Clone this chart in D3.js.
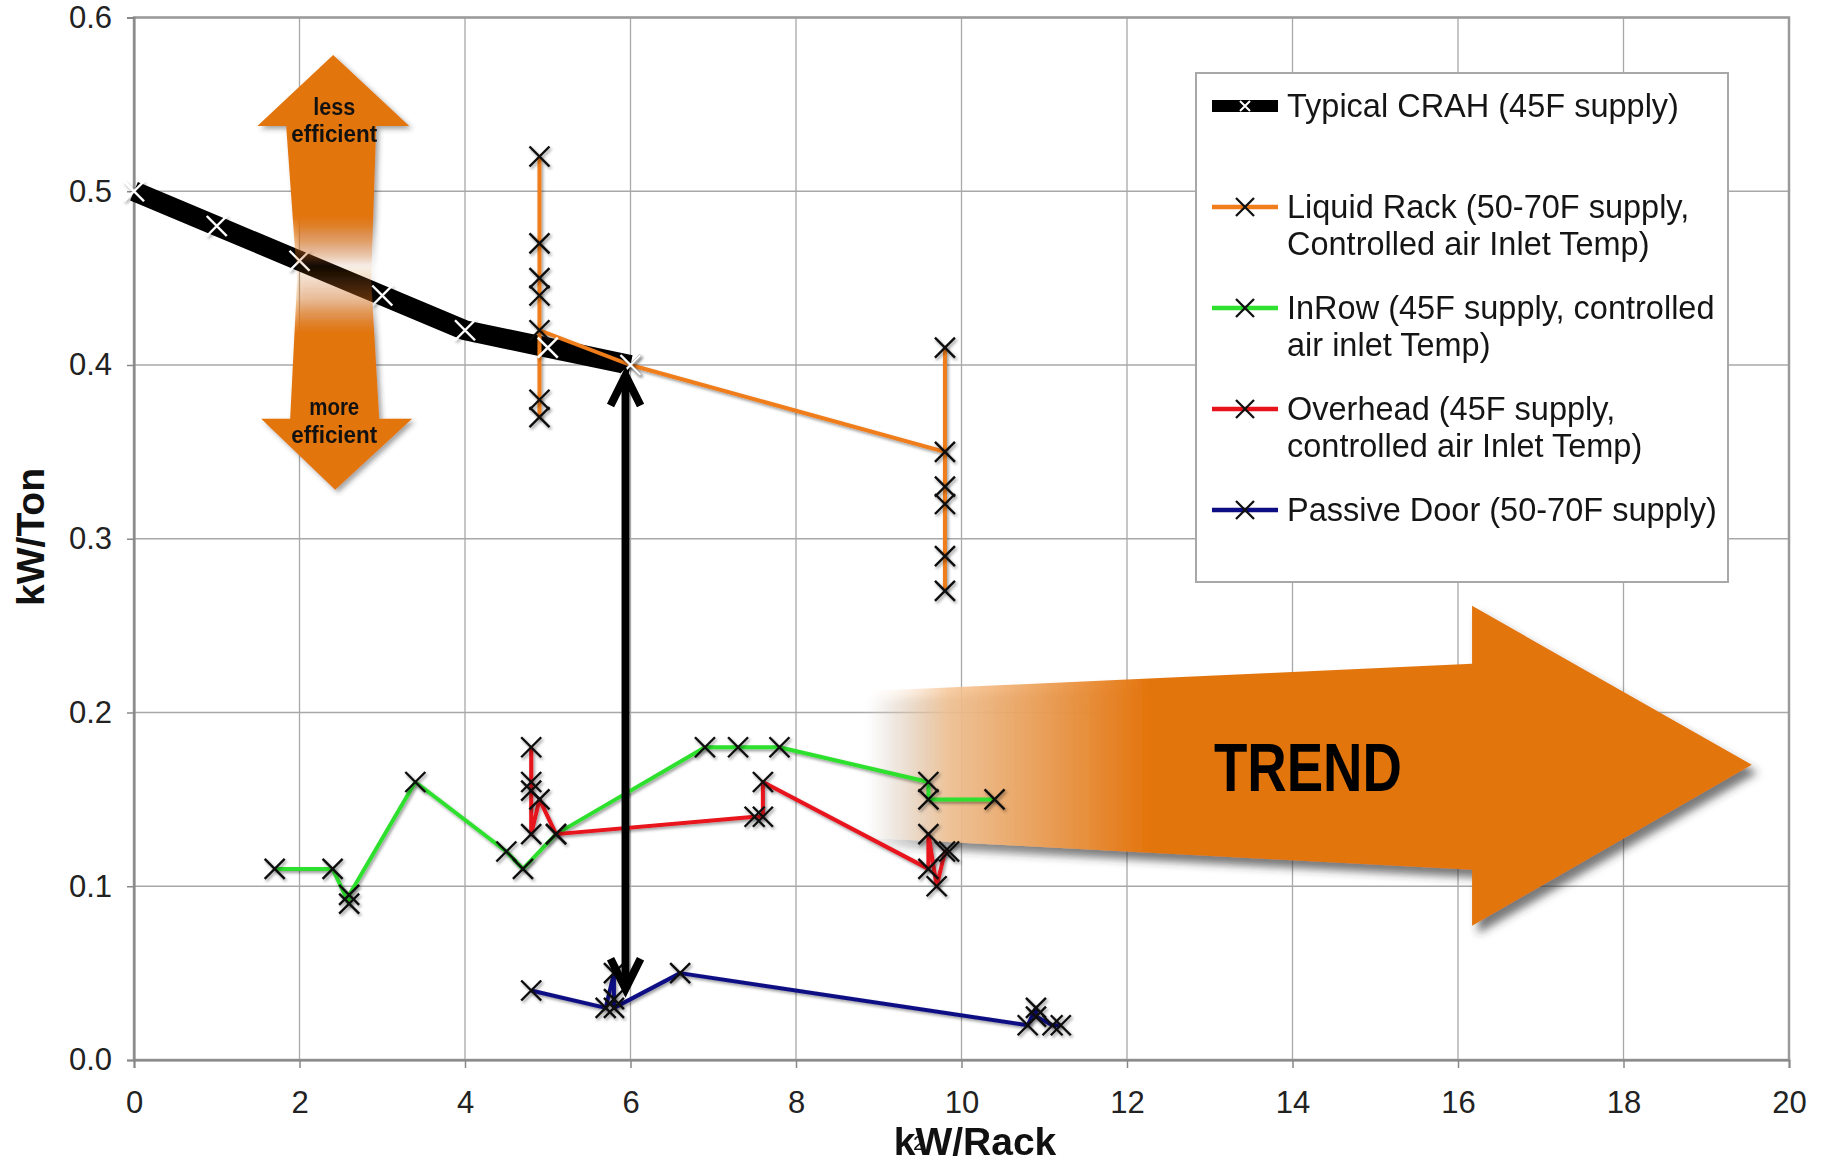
<!DOCTYPE html>
<html><head><meta charset="utf-8">
<script src="https://cdn.jsdelivr.net/npm/d3@7"></script>
<style>
html,body{margin:0;padding:0;background:#fff;}
svg{display:block;font-family:"Liberation Sans",Arial,Helvetica,sans-serif;}
</style></head><body>
<svg id="chart" width="1825" height="1162"></svg>
<script>
// ---------------- DATA ----------------
const xTicks = [0,2,4,6,8,10,12,14,16,18,20];
const yTicks = [0,0.1,0.2,0.3,0.4,0.5,0.6];

const crahX = [0,1,2,3,4,5,6];
const crahY = [0.50,0.48,0.46,0.44,0.42,0.41,0.40];

const liquidX = [4.9,4.9,4.9,4.9,4.9,4.9,4.9,6.0,9.8,9.8,9.8,9.8,9.8,9.8];
const liquidY = [0.52,0.47,0.45,0.44,0.37,0.38,0.42,0.40,0.35,0.41,0.33,0.32,0.29,0.27];

const inrowX = [1.7,2.4,2.6,2.6,3.4,4.5,4.7,5.1,6.9,7.3,7.8,9.6,9.6,10.4];
const inrowY = [0.11,0.11,0.09,0.095,0.16,0.12,0.11,0.13,0.18,0.18,0.18,0.16,0.15,0.15];

const overheadX = [4.8,4.8,4.8,4.8,4.9,5.1,7.5,7.6,7.6,9.6,9.6,9.7,9.8,9.85];
const overheadY = [0.18,0.16,0.155,0.13,0.15,0.13,0.14,0.14,0.16,0.11,0.13,0.10,0.12,0.12];

const passiveX = [4.8,5.7,5.8,5.8,5.8,6.6,10.8,10.9,10.9,11.1,11.2];
const passiveY = [0.04,0.03,0.05,0.035,0.03,0.05,0.02,0.03,0.025,0.02,0.02];

const legendLabels = [
  ["Typical CRAH (45F supply)"],
  ["Liquid Rack (50-70F supply,", "Controlled air Inlet Temp)"],
  ["InRow (45F supply, controlled", "air inlet Temp)"],
  ["Overhead (45F supply,", "controlled air Inlet Temp)"],
  ["Passive Door (50-70F supply)"]
];
const xLabel = "kW/Rack";
const yLabel = "kW/Ton";

// ---------------- STYLE ----------------
const seriesColors = ["#f07d1a", "#2fe02f", "#e8121c", "#0d0d84"];
const orange = "#e3740c";

// ---------------- CHART ----------------
const svg = d3.select("#chart");
const x = d3.scaleLinear().domain([0,20]).range([134,1789]);
const y = d3.scaleLinear().domain([0,0.6]).range([1060,17.5]);

const defs = svg.append("defs");
const f1 = defs.append("filter").attr("id","mshadow").attr("x","-50%").attr("y","-50%").attr("width","200%").attr("height","200%");
f1.append("feDropShadow").attr("dx",1.5).attr("dy",2).attr("stdDeviation",1.4).attr("flood-color","#000").attr("flood-opacity",0.4);
const f2 = defs.append("filter").attr("id","bshadow").attr("x","-20%").attr("y","-20%").attr("width","140%").attr("height","140%");
f2.append("feDropShadow").attr("dx",6).attr("dy",8).attr("stdDeviation",4.5).attr("flood-color","#333").attr("flood-opacity",0.65);
const f3 = defs.append("filter").attr("id","sshadow").attr("x","-20%").attr("y","-20%").attr("width","140%").attr("height","140%");
f3.append("feDropShadow").attr("dx",3).attr("dy",3).attr("stdDeviation",2.5).attr("flood-color","#333").attr("flood-opacity",0.45);

// trend gradient
const tg = defs.append("linearGradient").attr("id","trendGrad").attr("gradientUnits","userSpaceOnUse")
  .attr("x1", x(8.78)).attr("x2", x(12.28)).attr("y1",0).attr("y2",0);
tg.append("stop").attr("offset",0).attr("stop-color","#ffffff").attr("stop-opacity",0);
tg.append("stop").attr("offset",0.3).attr("stop-color","#f6c697").attr("stop-opacity",0.85);
tg.append("stop").attr("offset",1).attr("stop-color",orange).attr("stop-opacity",1);

// up/down gradient
const ug = defs.append("linearGradient").attr("id","udGrad").attr("gradientUnits","userSpaceOnUse")
  .attr("x1",0).attr("x2",0).attr("y1", y(0.5784)).attr("y2", y(0.3282));
[[0,1],[0.37,1],[0.45,0.35],[0.485,0.06],[0.56,0.35],[0.64,1],[1,1]].forEach(s=>{
  ug.append("stop").attr("offset",s[0]).attr("stop-color",orange).attr("stop-opacity",s[1]);
});

// grid
const grid = svg.append("g");
grid.selectAll("line.v").data(xTicks).join("line")
  .attr("x1",d=>x(d)).attr("x2",d=>x(d)).attr("y1",y(0.6)).attr("y2",y(0))
  .attr("stroke","#a8a8a8").attr("stroke-width",1.3);
grid.selectAll("line.h").data(yTicks).join("line")
  .attr("x1",x(0)).attr("x2",x(20)).attr("y1",d=>y(d)).attr("y2",d=>y(d))
  .attr("stroke","#a8a8a8").attr("stroke-width",1.3);
svg.append("rect").attr("x",x(0)).attr("y",y(0.6)).attr("width",x(20)-x(0)).attr("height",y(0)-y(0.6))
  .attr("fill","none").attr("stroke","#9a9a9a").attr("stroke-width",2.5);

// axes
const tickFont = "Liberation Sans, Arial, sans-serif";
svg.append("g").attr("transform",`translate(0,${y(0)})`)
  .call(d3.axisBottom(x).tickValues(xTicks).tickFormat(d3.format("d")).tickSize(8).tickPadding(23))
  .attr("font-size",31).attr("font-family",tickFont)
  .call(g=>g.select(".domain").attr("stroke","#888").attr("stroke-width",2))
  .call(g=>g.selectAll(".tick line").attr("stroke","#888").attr("stroke-width",1.5))
  .call(g=>g.selectAll(".tick text").attr("fill","#222"));
svg.append("g").attr("transform",`translate(${x(0)},0)`)
  .call(d3.axisLeft(y).tickValues(yTicks).tickFormat(d3.format(".1f")).tickSize(7).tickPadding(15))
  .attr("font-size",31).attr("font-family",tickFont)
  .call(g=>g.select(".domain").attr("stroke","#888").attr("stroke-width",2))
  .call(g=>g.selectAll(".tick line").attr("stroke","#888").attr("stroke-width",1.5))
  .call(g=>g.selectAll(".tick text").attr("fill","#222"));

// TREND arrow (annotation, in data units)
const trendAX = [8.414,16.17,16.17,19.55,16.17,16.17,8.414];
const trendAY = [0.2113,0.2280,0.2614,0.1699,0.0773,0.1095,0.1290];
svg.append("path")
  .attr("d", d3.line()(trendAX.map((v,i)=>[x(v), y(trendAY[i])])) + "Z")
  .attr("fill","url(#trendGrad)").attr("filter","url(#bshadow)");
svg.append("text").attr("x",x(13.05)).attr("y",y(0.1551))
  .attr("font-family","'Liberation Sans Narrow','Arial Narrow',Liberation Sans,sans-serif")
  .attr("font-weight","bold").attr("font-size",68).attr("fill","#000")
  .attr("textLength",188).attr("lengthAdjust","spacingAndGlyphs").text("TREND");

const line = d3.line().x(d=>x(d[0])).y(d=>y(d[1]));
const zip = (a,b)=>a.map((v,i)=>[v,b[i]]);

// CRAH line
svg.append("path").datum(zip(crahX,crahY)).attr("d",line)
  .attr("fill","none").attr("stroke","#000").attr("stroke-width",20)
  .attr("stroke-linejoin","round").attr("stroke-linecap","butt");

const seriesData = [zip(liquidX,liquidY), zip(inrowX,inrowY), zip(overheadX,overheadY), zip(passiveX,passiveY)];
const xPath = r => `M${-r},${-r}L${r},${r}M${-r},${r}L${r},${-r}`;

seriesData.forEach((d,i)=>{
  svg.append("path").datum(d).attr("d",line)
    .attr("fill","none").attr("stroke",seriesColors[i]).attr("stroke-width",4)
    .attr("stroke-linejoin","round").attr("filter","url(#mshadow)");
});
const mk = svg.append("g").attr("filter","url(#mshadow)");
seriesData.forEach((d)=>{
  mk.selectAll(null).data(d).join("path")
    .attr("transform",p=>`translate(${x(p[0])},${y(p[1])})`)
    .attr("d",xPath(10)).attr("stroke","#111").attr("stroke-width",2.4).attr("fill","none");
});
svg.append("g").attr("filter","url(#mshadow)").selectAll("path").data(zip(crahX,crahY)).join("path")
  .attr("transform",p=>`translate(${x(p[0])},${y(p[1])})`)
  .attr("d",xPath(10)).attr("stroke","#fff").attr("stroke-width",2.4).attr("fill","none");

// up/down orange arrow
const udX = [2.407,3.326,2.927,2.866,2.963,3.361,2.431,1.537,1.887,1.972,1.839,1.491];
const udY = [0.5784,0.5375,0.5375,0.4490,0.3690,0.3690,0.3282,0.3690,0.3690,0.4490,0.5375,0.5375];
svg.append("path")
  .attr("d", d3.line()(udX.map((v,i)=>[x(v), y(udY[i])])) + "Z")
  .attr("fill","url(#udGrad)").attr("filter","url(#sshadow)");
const udText = [["less",0.5439],["efficient",0.5283],["more",0.3714],["efficient",0.3553]];
const udLen = {"less":42,"more":50,"efficient":86};
svg.append("g").selectAll("text").data(udText).join("text")
  .attr("x",x(2.42)).attr("y",d=>y(d[1])).attr("text-anchor","middle")
  .attr("font-family","'Liberation Sans Narrow','Arial Narrow',Liberation Sans,sans-serif")
  .attr("font-weight","bold").attr("font-size",23).attr("fill","#111")
  .attr("textLength",d=>udLen[d[0]]).attr("lengthAdjust","spacingAndGlyphs")
  .text(d=>d[0]);

// black double arrow
const ax = x(5.94), aTop = y(0.394), aBot = y(0.041);
const ba = svg.append("g").attr("stroke","#000").attr("fill","none").attr("stroke-width",8);
ba.append("line").attr("x1",ax).attr("x2",ax).attr("y1",aTop+2).attr("y2",aBot-2);
ba.append("path").attr("d",`M${ax-15},${aTop+30}L${ax},${aTop}L${ax+15},${aTop+30}`).attr("stroke-linejoin","miter");
ba.append("path").attr("d",`M${ax-15},${aBot-30}L${ax},${aBot}L${ax+15},${aBot-30}`).attr("stroke-linejoin","miter");

// legend
const lg = svg.append("g");
lg.append("rect").attr("x",1196).attr("y",73).attr("width",532).attr("height",509)
  .attr("fill","#fff").attr("stroke","#a8a8a8").attr("stroke-width",2);
const rowY = [106, 207, 308, 409, 510];
legendLabels.forEach((lines,i)=>{
  const cy = rowY[i];
  if(i===0){
    lg.append("line").attr("x1",1212).attr("x2",1278).attr("y1",cy).attr("y2",cy)
      .attr("stroke","#000").attr("stroke-width",12);
    lg.append("path").attr("transform",`translate(1245,${cy})`).attr("d",xPath(5))
      .attr("stroke","#fff").attr("stroke-width",2).attr("fill","none");
  } else {
    lg.append("line").attr("x1",1212).attr("x2",1278).attr("y1",cy).attr("y2",cy)
      .attr("stroke",seriesColors[i-1]).attr("stroke-width",4.5);
    lg.append("path").attr("transform",`translate(1245,${cy})`).attr("d",xPath(9))
      .attr("stroke","#111").attr("stroke-width",2.3).attr("fill","none");
  }
  lines.forEach((t,j)=>{
    lg.append("text").attr("x",1287).attr("y",cy+11+j*37)
      .attr("font-size",32.5).attr("fill","#151515").text(t);
  });
});

// axis titles
svg.append("text").attr("x",975).attr("y",1155).attr("text-anchor","middle")
  .attr("font-weight","bold").attr("font-size",39).attr("fill","#111").text(xLabel);
svg.append("text").attr("x",913).attr("y",1150).attr("font-size",21).attr("fill","#111").text("2");
svg.append("text").attr("transform","translate(44,537) rotate(-90)").attr("text-anchor","middle")
  .attr("font-weight","bold").attr("font-size",39).attr("fill","#111").text(yLabel);
</script>
</body></html>
